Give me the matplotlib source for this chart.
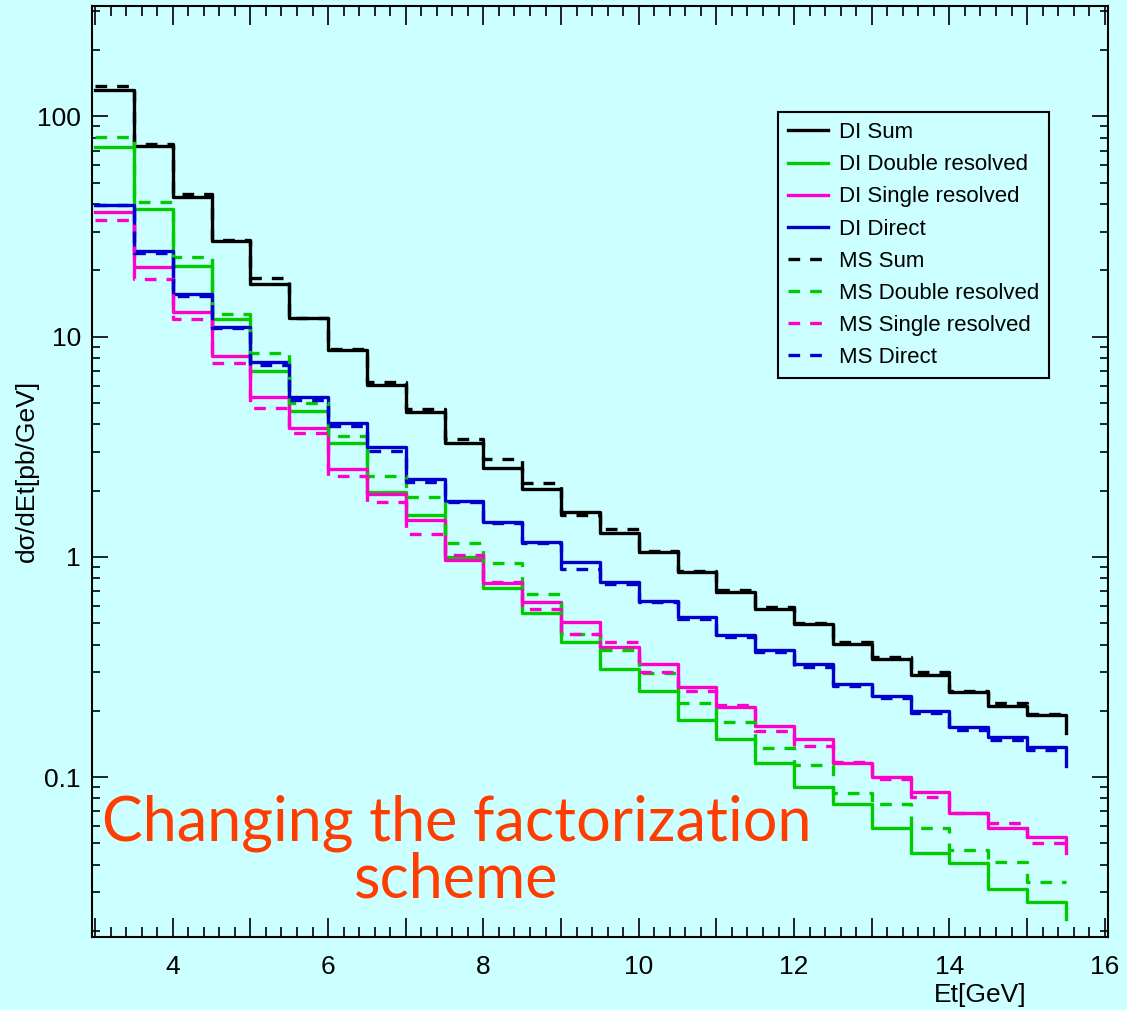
import numpy as np
import matplotlib
matplotlib.use('Agg')
from matplotlib import pyplot as plt
from matplotlib.ticker import MultipleLocator, LogLocator, FuncFormatter, NullFormatter

# bin edges in Et [GeV]
edges = [3.0, 3.5, 4.0, 4.5, 5.0, 5.5, 6.0, 6.5, 7.0, 7.5, 8.0, 8.5, 9.0,
         9.5, 10.0, 10.5, 11.0, 11.5, 12.0, 12.5, 13.0, 13.5, 14.0, 14.5, 15.0, 15.5]

# DI factorization scheme (solid)
di_sum = [132, 73.4, 43.1, 27.2, 17.4, 12.1, 8.7, 6.04, 4.55, 3.29, 2.54, 2.03, 1.60,
          1.28, 1.05, 0.855, 0.694, 0.581, 0.497, 0.403, 0.344, 0.291, 0.244, 0.211, 0.192]
di_double = [72.6, 38.0, 20.9, 12.0, 6.99, 4.60, 3.29, 1.97, 1.55, 1.00, 0.723, 0.557, 0.411,
             0.310, 0.246, 0.182, 0.149, 0.116, 0.0901, 0.0757, 0.0585, 0.0453, 0.0408, 0.0311, 0.0272]
di_single = [36.8, 20.7, 12.9, 8.17, 5.32, 3.85, 2.51, 1.93, 1.47, 0.97, 0.762, 0.625, 0.507,
             0.390, 0.327, 0.257, 0.209, 0.171, 0.149, 0.116, 0.100, 0.0858, 0.0688, 0.0589, 0.0536]
di_direct = [39.6, 24.5, 15.6, 11.1, 7.67, 5.32, 4.05, 3.15, 2.26, 1.80, 1.44, 1.17, 0.949,
             0.770, 0.631, 0.534, 0.442, 0.378, 0.327, 0.265, 0.234, 0.200, 0.169, 0.152, 0.137]
di_tail = [0.159, 0.0226, 0.0453, 0.112]  # value reached by the closing edge at 15.5

# MS factorization scheme (dashed)
ms_sum = [137, 74.9, 44.4, 27.5, 18.5, 12.1, 8.8, 6.2, 4.69, 3.43, 2.78, 2.17, 1.55,
          1.34, 1.06, 0.86, 0.71, 0.59, 0.50, 0.41, 0.35, 0.30, 0.245, 0.218, 0.194]
ms_double = [80.6, 40.9, 23.0, 12.7, 8.43, 5.0, 3.54, 2.33, 1.87, 1.16, 0.94, 0.679, 0.447,
             0.378, 0.298, 0.217, 0.178, 0.136, 0.113, 0.085, 0.0757, 0.0589, 0.0467, 0.0412, 0.0334]
ms_single = [33.9, 18.3, 12.0, 7.6, 4.75, 3.66, 2.33, 1.78, 1.27, 1.02, 0.77, 0.581, 0.447,
             0.411, 0.301, 0.246, 0.213, 0.162, 0.139, 0.117, 0.098, 0.0815, 0.0685, 0.0622, 0.0503]
ms_direct = [39.5, 24.0, 15.3, 10.9, 7.45, 5.16, 3.93, 3.03, 2.19, 1.78, 1.43, 1.16, 0.882,
             0.754, 0.625, 0.523, 0.433, 0.370, 0.317, 0.260, 0.229, 0.196, 0.164, 0.148, 0.133]

names = ['Sum', 'Double resolved', 'Single resolved', 'Direct']
colors = ['black', '#00cc00', '#ff00cc', '#0000cc']

bg = '#ccffff'
font = ['Liberation Sans', 'DejaVu Sans']

fig = plt.figure(figsize=(11.27, 10.10), dpi=100, facecolor=bg)
ax = fig.add_axes([0.0816, 0.0723, 0.9014, 0.9217])
ax.set_facecolor(bg)


def draw(vals, tail, color, ls, label):
    x = edges + [edges[-1]]
    y = vals + [vals[-1], tail]
    ax.step(x, y, where='post', color=color, lw=2.4, linestyle=ls, label=label)


for vals, tail, c, n in zip([di_sum, di_double, di_single, di_direct], di_tail, colors, names):
    draw(vals, tail, c, '-', 'DI ' + n)
for vals, c, n in zip([ms_sum, ms_double, ms_single, ms_direct], colors, names):
    draw(vals, vals[-1], c, (0, (3.5, 3)), 'MS ' + n)

ax.set_yscale('log')
ax.set_xlim(2.96, 16.04)
ax.set_ylim(0.0188, 317)

ax.xaxis.set_major_locator(MultipleLocator(1))
ax.xaxis.set_minor_locator(MultipleLocator(0.2))
ax.xaxis.set_major_formatter(FuncFormatter(lambda v, p: '%d' % v if int(round(v)) % 2 == 0 else ''))
ax.yaxis.set_major_locator(LogLocator(base=10))
ax.yaxis.set_minor_locator(LogLocator(base=10, subs=np.arange(2, 10)))
ax.yaxis.set_major_formatter(FuncFormatter(lambda v, p: '%g' % v))
ax.yaxis.set_minor_formatter(NullFormatter())

ax.tick_params(axis='both', which='both', direction='in', top=True, right=True, width=1.2, colors='black')
ax.tick_params(axis='x', which='major', length=14, pad=13)
ax.tick_params(axis='x', which='minor', length=7)
ax.tick_params(axis='y', which='major', length=11.5, pad=8)
ax.tick_params(axis='y', which='minor', length=5.8)
for lab in ax.get_xticklabels() + ax.get_yticklabels():
    lab.set_family(font)
    lab.set_fontsize(19)
for s in ax.spines.values():
    s.set_linewidth(1.5)

ax.set_ylabel('dσ/dEt[pb/GeV]', family=font, fontsize=19)
ax.yaxis.set_label_coords(-0.052, 0.501)
ax.set_xlabel('Et[GeV]', family=font, fontsize=19)
ax.xaxis.set_label_coords(0.874, -0.049)

leg = ax.legend(loc='upper left', bbox_to_anchor=(0.675, 0.886), borderaxespad=0,
                prop={'family': font, 'size': 16}, fancybox=False, framealpha=1,
                facecolor=bg, edgecolor='black', handlelength=1.8, handletextpad=0.5,
                labelspacing=0.5, borderpad=0.45)
leg.get_frame().set_linewidth(1.5)

ax.text(0.359, 0.092, 'Changing the factorization\nscheme', transform=ax.transAxes,
        ha='center', va='center', multialignment='center', color='#ff3d00',
        family=['Lato', 'DejaVu Sans'], fontsize=44, linespacing=1.0)

fig.savefig('out.png', dpi=100, facecolor=bg)
